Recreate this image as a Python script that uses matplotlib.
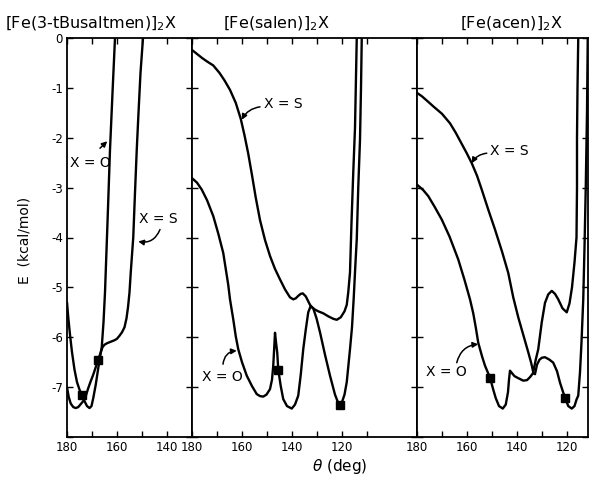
import matplotlib
matplotlib.use("Agg")
import matplotlib.pyplot as plt

plt.rcParams["font.family"] = ["DejaVu Sans"]
plt.rcParams["axes.unicode_minus"] = False

# ---- data: theta (deg), E (kcal/mol) ----
p1_o_theta = [180.0, 179.5, 178.8, 178.0, 177.0, 176.0, 175.0, 174.0, 173.0, 172.0,
              171.0, 170.2, 169.5, 168.5, 167.5, 166.8, 166.1, 165.4, 164.8, 163.8,
              162.8, 161.8, 160.8, 160.4]
p1_o_e = [-5.30, -5.60, -5.95, -6.30, -6.65, -6.90, -7.05, -7.17, -7.28, -7.38,
          -7.42, -7.38, -7.22, -6.95, -6.62, -6.40, -6.20, -5.70, -5.10, -3.70,
          -2.24, -1.10, 0.0, 0.5]
p1_s_theta = [180.0, 179.3, 178.5, 177.5, 176.5, 175.5, 174.5, 173.5, 172.5, 171.5,
              170.5, 169.5, 168.5, 167.5, 166.5, 165.8, 165.0, 164.0, 163.0, 162.0,
              161.0, 160.0, 159.0, 158.0, 157.0, 156.2, 155.6, 155.0, 154.5, 154.0,
              153.5, 152.8, 152.1, 151.4, 150.6, 149.6, 149.2]
p1_s_e = [-7.00, -7.20, -7.33, -7.40, -7.42, -7.40, -7.34, -7.28, -7.18, -7.02,
          -6.88, -6.75, -6.60, -6.45, -6.30, -6.20, -6.15, -6.12, -6.10, -6.08,
          -6.06, -6.03, -5.97, -5.90, -5.80, -5.62, -5.40, -5.10, -4.70, -4.35,
          -4.00, -3.10, -2.24, -1.50, -0.70, 0.0, 0.5]

p2_s_theta = [180.0, 178.0, 176.0, 174.0, 171.5, 169.0, 167.0, 164.8, 162.5, 160.5,
              159.0, 157.5, 156.0, 154.5, 152.8, 150.8, 148.8, 146.8, 144.8, 142.8,
              140.8, 139.5, 138.5, 137.5, 136.5, 135.7, 134.5, 133.5, 132.5, 131.0,
              129.5, 127.5, 125.5, 123.5, 122.1, 120.5, 119.0, 118.1, 117.5, 116.8,
              116.2, 115.5, 114.8, 114.1, 113.8]
p2_s_e = [-0.24, -0.32, -0.40, -0.47, -0.55, -0.70, -0.85, -1.04, -1.30, -1.62,
          -1.95, -2.32, -2.75, -3.20, -3.65, -4.05, -4.37, -4.63, -4.84, -5.04,
          -5.20, -5.24, -5.22, -5.17, -5.13, -5.12, -5.18, -5.28, -5.38, -5.44,
          -5.48, -5.52, -5.58, -5.63, -5.65, -5.60, -5.48, -5.35, -5.10, -4.70,
          -3.70, -2.70, -1.80, 0.0, 0.5]
p2_o_theta = [180.0, 178.0, 176.1, 174.0, 171.5, 169.5, 167.5, 165.5, 164.8, 163.5,
              162.5, 161.5, 160.0, 158.1, 156.0, 154.1, 152.8, 151.5, 150.2, 148.8,
              148.0, 147.5, 147.1, 146.8, 146.4, 145.9, 145.5, 144.5, 143.5, 142.0,
              140.1, 138.8, 137.5, 136.5, 135.5, 134.5, 133.5, 132.5, 131.5, 130.2,
              128.8, 126.8, 124.8, 122.8, 121.5, 120.8, 120.0, 119.0, 118.1, 116.8,
              116.0, 115.3, 114.6, 114.1, 113.5, 112.8, 112.4, 112.1, 111.9]
p2_o_e = [-2.81, -2.90, -3.04, -3.25, -3.57, -3.92, -4.31, -4.95, -5.24, -5.64,
          -5.98, -6.24, -6.50, -6.77, -6.98, -7.14, -7.18, -7.19, -7.15, -7.04,
          -6.85, -6.57, -6.20, -5.91, -6.10, -6.31, -6.65, -6.98, -7.24, -7.38,
          -7.43, -7.35, -7.17, -6.75, -6.24, -5.85, -5.50, -5.37, -5.42, -5.62,
          -5.90, -6.35, -6.77, -7.15, -7.32, -7.36, -7.30, -7.15, -6.90, -6.24,
          -5.80, -5.20, -4.50, -4.04, -3.00, -2.04, -1.00, 0.0, 0.5]

p3_s_theta = [180.0, 178.0, 175.5, 173.5, 170.0, 166.8, 164.5, 163.0, 160.1, 158.1,
              156.0, 154.1, 151.5, 148.8, 146.0, 143.5, 141.5, 139.5, 137.5, 135.5,
              134.3, 133.5, 132.5, 131.5, 130.1, 128.8, 127.5, 126.1, 124.8, 123.5,
              121.8, 120.1, 119.0, 118.0, 117.0, 116.2, 116.0, 116.0, 115.8, 115.5,
              115.4]
p3_s_e = [-1.10, -1.17, -1.28, -1.37, -1.52, -1.71, -1.90, -2.04, -2.31, -2.51,
          -2.76, -3.04, -3.44, -3.84, -4.28, -4.71, -5.20, -5.60, -5.95, -6.30,
          -6.52, -6.70, -6.45, -6.24, -5.70, -5.31, -5.14, -5.07, -5.13, -5.24,
          -5.42, -5.50, -5.32, -5.00, -4.50, -4.00, -3.00, -2.00, -1.00, 0.0,
          0.5]
p3_o_theta = [180.0, 177.5, 175.5, 173.0, 170.1, 167.0, 163.5, 161.0, 158.8, 157.5,
              156.5, 155.5, 154.0, 152.8, 150.8, 149.5, 148.5, 147.2, 145.7, 144.5,
              143.6, 143.2, 142.8, 142.0, 141.0, 139.5, 137.5, 136.0, 134.8, 133.6,
              132.8, 132.0, 131.0, 130.0, 128.8, 127.0, 125.5, 124.0, 122.8, 121.7,
              120.8, 119.5, 118.1, 117.0, 116.2, 115.5, 114.8, 114.2, 113.5, 113.0,
              112.5, 112.0, 111.7]
p3_o_e = [-2.94, -3.05, -3.17, -3.38, -3.64, -3.98, -4.44, -4.85, -5.24, -5.52,
          -5.80, -6.11, -6.38, -6.57, -6.81, -7.05, -7.22, -7.38, -7.43, -7.35,
          -7.10, -6.85, -6.67, -6.72, -6.78, -6.82, -6.87, -6.86, -6.80, -6.72,
          -6.74, -6.55, -6.45, -6.41, -6.40, -6.45, -6.51, -6.68, -6.91, -7.08,
          -7.21, -7.38, -7.43, -7.38, -7.25, -7.17, -6.70, -6.10, -5.24, -4.20,
          -3.00, -1.50, 0.0]

# square markers (theta, E) per panel
sq_theta = [[174.0, 167.5], [145.5, 121.0], [150.8, 120.8]]
sq_e = [[-7.15, -6.45], [-6.65, -7.35], [-6.81, -7.21]]

titles = [r"[Fe(3-tBusaltmen)]$_2$X", r"[Fe(salen)]$_2$X", r"[Fe(acen)]$_2$X"]
xlims = [(180, 130), (180, 90), (180, 111.6)]
xtick_sets = [[180, 170, 160, 150, 140, 130],
              [180, 170, 160, 150, 140, 130, 120, 110],
              [180, 170, 160, 150, 140, 130, 120]]
ytick_vals = [0, -1, -2, -3, -4, -5, -6, -7, -8]
ytick_labels = ["0", "-1", "-2", "-3", "-4", "-5", "-6", "-7", ""]

# label text pos, arrow tail, arrow head, curvature
notes = [
    [("X = O", (170.8, -2.5), (166.8, -2.21), (163.9, -2.07), 0.0),
     ("X = S", (143.6, -3.62), (142.8, -3.84), (151.5, -4.08), -0.4)],
    [("X = S", (143.6, -1.32), (152.8, -1.38), (160.1, -1.64), 0.25),
     ("X = O", (168.0, -6.80), (167.6, -6.54), (162.1, -6.27), -0.4)],
    [("X = S", (143.2, -2.26), (152.1, -2.31), (158.1, -2.51), 0.25),
     ("X = O", (168.4, -6.70), (164.1, -6.51), (155.5, -6.14), -0.35)],
]

curves = [
    [(p1_o_theta, p1_o_e), (p1_s_theta, p1_s_e)],
    [(p2_o_theta, p2_o_e), (p2_s_theta, p2_s_e)],
    [(p3_o_theta, p3_o_e), (p3_s_theta, p3_s_e)],
]

W, H = 590, 478
fig = plt.figure(figsize=(W / 100, H / 100), dpi=100)

left_px = [67, 192, 417]
right_px = [192, 417, 588]
top_px, bot_px = 38, 437
title_x = [5, 223, 460]

for i in range(3):
    ax = fig.add_axes([left_px[i] / W, 1 - bot_px / H,
                       (right_px[i] - left_px[i]) / W, (bot_px - top_px) / H])
    for th, e in curves[i]:
        ax.plot(th, e, color="black", lw=1.7, solid_capstyle="round")
    ax.plot(sq_theta[i], sq_e[i], ls="none", marker="s", ms=5.5, color="black")
    ax.set_xlim(*xlims[i])
    ax.set_ylim(-8, 0)
    ax.set_xticks(xtick_sets[i])
    ax.set_xticklabels([str(t) if t % 20 == 0 else "" for t in xtick_sets[i]])
    ax.set_yticks(ytick_vals)
    if i == 0:
        ax.set_yticklabels(ytick_labels)
    else:
        ax.set_yticklabels([])
    ax.tick_params(direction="in", top=True, right=True, length=4, width=1,
                   labelsize=8.5, pad=3)
    for sp in ax.spines.values():
        sp.set_linewidth(1.3)
    for txt, tpos, tail, head, rad in notes[i]:
        ax.text(tpos[0], tpos[1], txt, ha="center", va="center", fontsize=10)
        ax.annotate("", xy=head, xytext=tail,
                    arrowprops=dict(arrowstyle="-|>", color="black", lw=1.1,
                                    mutation_scale=8, shrinkA=0, shrinkB=0,
                                    connectionstyle=f"arc3,rad={rad}"))
    fig.text(title_x[i] / W, 1 - 28 / H, titles[i], fontsize=11.5, ha="left",
             va="baseline")

fig.text(25 / W, 1 - 240 / H, "E  (kcal/mol)", rotation=90, ha="center",
         va="center", fontsize=10)
fig.text(340 / W, 1 - 466 / H, r"$\theta$ (deg)", ha="center", va="center",
         fontsize=11)

fig.savefig("out.png", dpi=100)
